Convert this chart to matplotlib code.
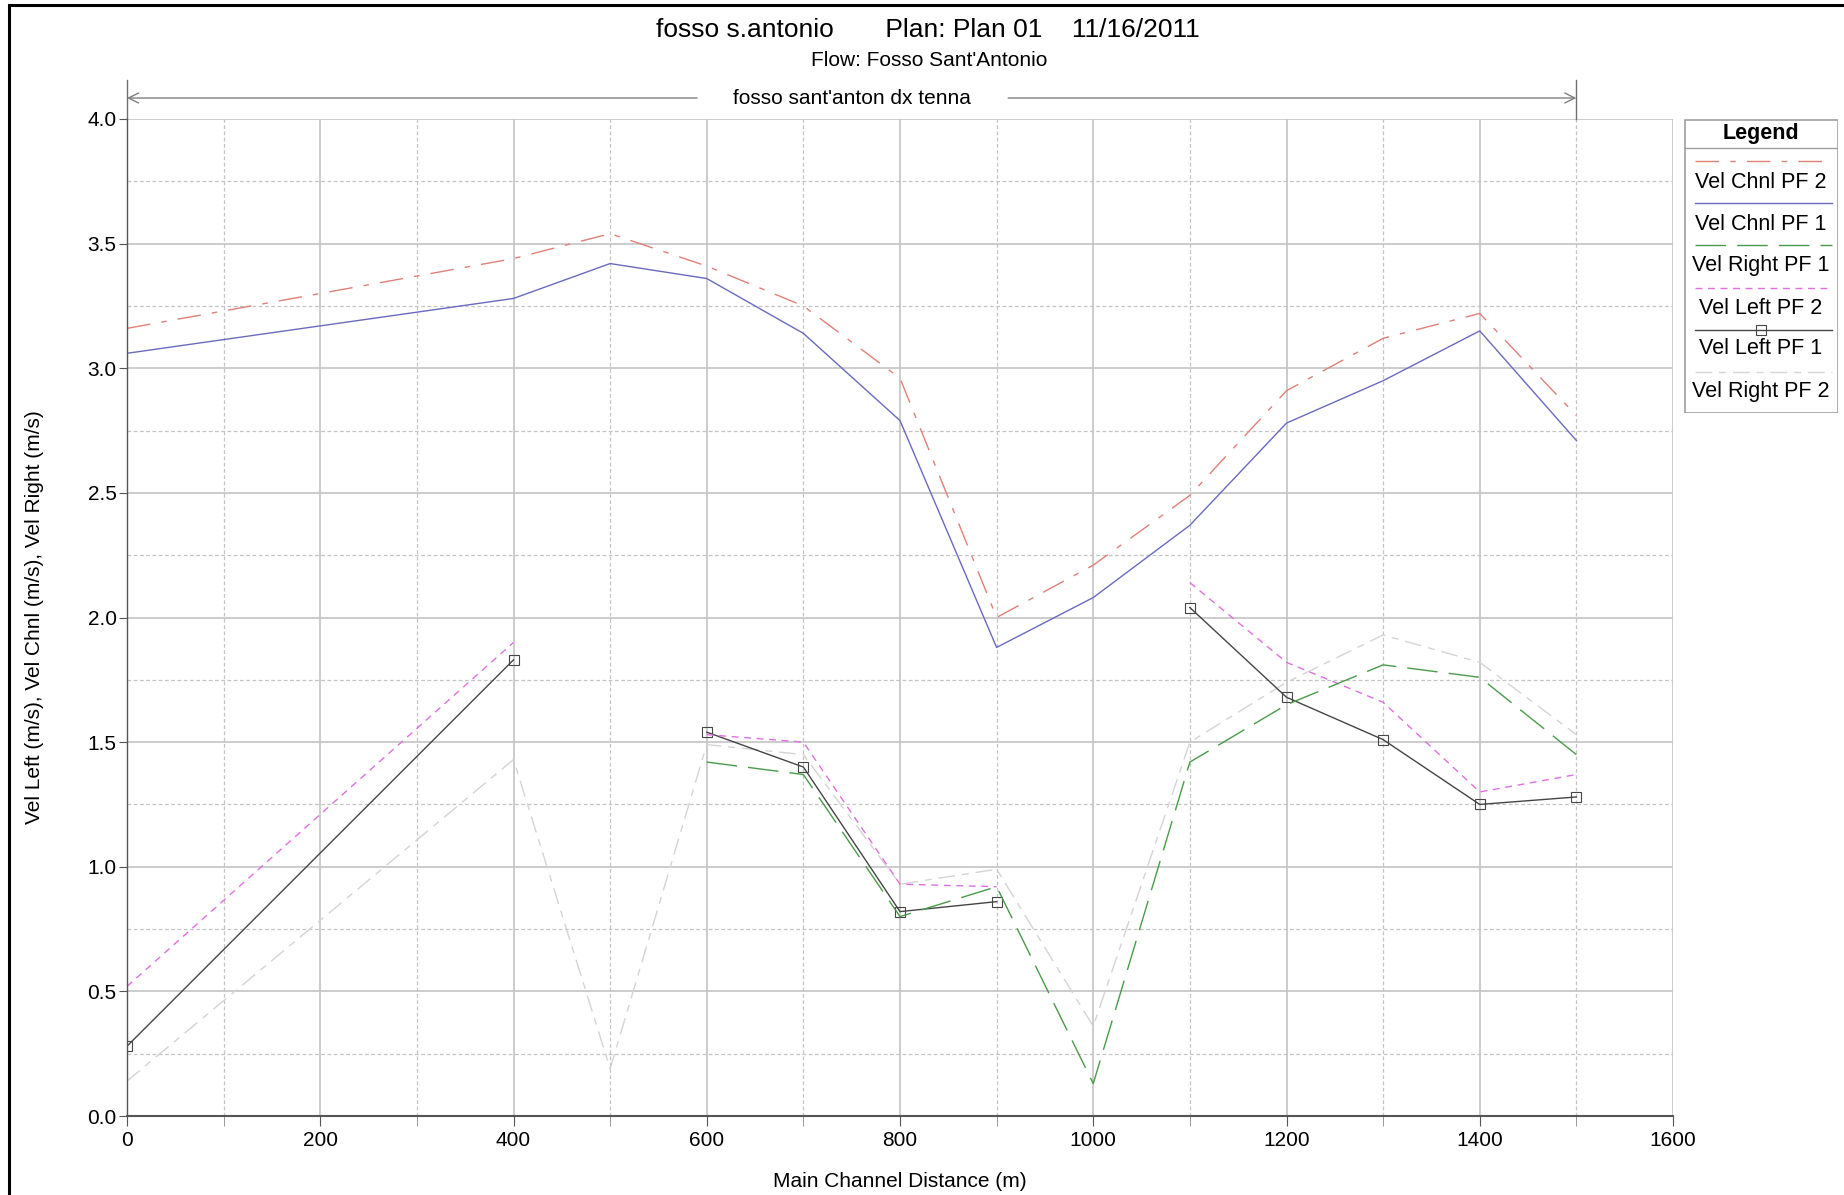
import matplotlib
matplotlib.use('Agg')
from matplotlib import pyplot as plt
from matplotlib.patches import Rectangle
from matplotlib.ticker import MultipleLocator, FormatStrFormatter
import matplotlib.transforms as mtransforms
import numpy as np

plt.rcParams['font.family'] = ['Liberation Sans', 'DejaVu Sans']

# river stations (main channel distance, m)
stations = [0, 400, 500, 600, 700, 800, 900, 1000, 1100, 1200, 1300, 1400, 1500]

# velocities (m/s), nan where the value is missing
vel_chnl_pf2 = [3.16, 3.44, 3.54, 3.41, 3.25, 2.96, 2.00, 2.21, 2.49, 2.91, 3.12, 3.22, 2.81]
vel_chnl_pf1 = [3.06, 3.28, 3.42, 3.36, 3.14, 2.79, 1.88, 2.08, 2.37, 2.78, 2.95, 3.15, 2.71]
vel_right_pf1 = [np.nan, np.nan, np.nan, 1.42, 1.37, 0.80, 0.92, 0.13, 1.42, 1.65, 1.81, 1.76, 1.45]
vel_left_pf2 = [0.52, 1.90, np.nan, 1.53, 1.50, 0.93, 0.92, np.nan, 2.14, 1.82, 1.66, 1.30, 1.37]
vel_left_pf1 = [0.28, 1.83, np.nan, 1.54, 1.40, 0.82, 0.86, np.nan, 2.04, 1.68, 1.51, 1.25, 1.28]
vel_right_pf2 = [0.14, 1.43, 0.19, 1.49, 1.45, 0.93, 0.99, 0.36, 1.50, 1.74, 1.93, 1.82, 1.53]

reach_name = "fosso sant'anton dx tenna"
reach_start, reach_end = 0, 1500

# line styles for each profile
styles = {
    'Vel Chnl PF 2': dict(color='#e08078', dashes=[17, 8, 4, 8], lw=1.0),
    'Vel Chnl PF 1': dict(color='#6a6ac0', lw=1.0),
    'Vel Right PF 1': dict(color='#4a9a4a', dashes=[22, 8], lw=1.0),
    'Vel Left PF 2': dict(color='#e070e0', dashes=[5, 4], lw=1.0),
    'Vel Left PF 1': dict(color='#454545', lw=1.0, marker='s', ms=7, mfc='none', mec='#454545', mew=0.8),
    'Vel Right PF 2': dict(color='#d4d4d4', dashes=[12, 5, 5, 5], lw=1.0),
}
series = {
    'Vel Chnl PF 2': vel_chnl_pf2,
    'Vel Chnl PF 1': vel_chnl_pf1,
    'Vel Right PF 1': vel_right_pf1,
    'Vel Left PF 2': vel_left_pf2,
    'Vel Left PF 1': vel_left_pf1,
    'Vel Right PF 2': vel_right_pf2,
}

fig = plt.figure(figsize=(18.44, 11.95), dpi=100)
ax = fig.add_axes([127 / 1844, 1 - 1116 / 1195, 1546 / 1844, 997 / 1195])

# draw the lines, last legend entry first so the channel lines sit on top
for name in reversed(list(series.keys())):
    ax.plot(stations, series[name], label=name, **styles[name])

ax.set_xlim(0, 1600)
ax.set_ylim(0, 4.0)
ax.xaxis.set_major_locator(MultipleLocator(200))
ax.xaxis.set_minor_locator(MultipleLocator(100))
ax.yaxis.set_major_locator(MultipleLocator(0.5))
ax.yaxis.set_minor_locator(MultipleLocator(0.25))
ax.yaxis.set_major_formatter(FormatStrFormatter('%.1f'))

ax.grid(which='major', color='#c4c4c4', lw=1.2, ls='-')
ax.grid(which='minor', color='#c4c4c4', lw=0.9, ls=(0, (3, 2)))
ax.set_axisbelow(True)

for s in ['top', 'right']:
    ax.spines[s].set_visible(False)
ax.spines['left'].set_color('#555555')
ax.spines['left'].set_linewidth(1.0)
ax.spines['bottom'].set_color('#555555')
ax.spines['bottom'].set_linewidth(1.5)

ax.tick_params(axis='both', which='major', labelsize=15, colors='#555555', labelcolor='black')
ax.tick_params(axis='y', which='major', length=6, pad=1.5)
ax.tick_params(axis='y', which='minor', length=0)
ax.tick_params(axis='x', which='major', length=7, pad=4)
ax.tick_params(axis='x', which='minor', length=7, color='#888888')

ax.set_xlabel('Main Channel Distance (m)', fontsize=15)
ax.xaxis.set_label_coords(0.5, -0.056)
ax.set_ylabel('Vel Left (m/s), Vel Chnl (m/s), Vel Right (m/s)', fontsize=15)
ax.yaxis.set_label_coords(-0.054, 0.5)

# reach marker above the plot
trans = mtransforms.blended_transform_factory(ax.transData, ax.transAxes)
ry = 1 + 21 / 997
for xa, xb in [(590, reach_start), (912, reach_end)]:
    ax.annotate('', xy=(xb, ry), xytext=(xa, ry), xycoords=trans, textcoords=trans,
                arrowprops=dict(arrowstyle='->', color='#808080', lw=1.0,
                                shrinkA=0, shrinkB=0, mutation_scale=18),
                annotation_clip=False)
for xv in [reach_start, reach_end]:
    ax.plot([xv, xv], [1.0, 1 + 39 / 997], transform=trans, clip_on=False,
            color='#707070', lw=1.0)
ax.text((reach_start + reach_end) / 2, ry - 1 / 997, reach_name, transform=trans,
        ha='center', va='center', fontsize=15)

# titles
fig.text(0.503, 1 - 30 / 1195, 'fosso s.antonio       Plan: Plan 01    11/16/2011',
         ha='center', va='center', fontsize=19)
fig.text(0.504, 1 - 61 / 1195, "Flow: Fosso Sant'Antonio", ha='center', va='center', fontsize=15)

# custom legend box (pixel units inside the box)
lax = fig.add_axes([1684 / 1844, 1 - 413 / 1195, 154 / 1844, 294 / 1195])
lax.set_xlim(0, 154)
lax.set_ylim(294, 0)
lax.axis('off')
lax.add_patch(Rectangle((0.5, 0.5), 153, 293, fill=False, ec='#a0a0a0', lw=1.2))
lax.plot([0.5, 153.5], [29, 29], color='#a0a0a0', lw=1.0)
lax.text(77, 14, 'Legend', ha='center', va='center', fontsize=15.5, fontweight='bold')
sample_y = [42, 84, 126, 169, 211, 253]
label_y = [63, 105, 147, 189, 230, 273]
for name, sy, ty in zip(series.keys(), sample_y, label_y):
    st = dict(styles[name])
    for k in ['marker', 'ms', 'mfc', 'mec', 'mew']:
        st.pop(k, None)
    lax.plot([11, 148], [sy, sy], **st)
    if name == 'Vel Left PF 1':
        lax.plot([77], [sy], marker='s', ms=7, mfc='none', mec='#454545', mew=0.8)
    lax.text(77, ty, name, ha='center', va='center', fontsize=15.5)

# outer frame of the page
fig.add_artist(Rectangle((9 / 1844, -1), 2, 2 - 5 / 1195, transform=fig.transFigure,
                         fill=False, ec='black', lw=2.2))

fig.savefig('out.png', dpi=100)
